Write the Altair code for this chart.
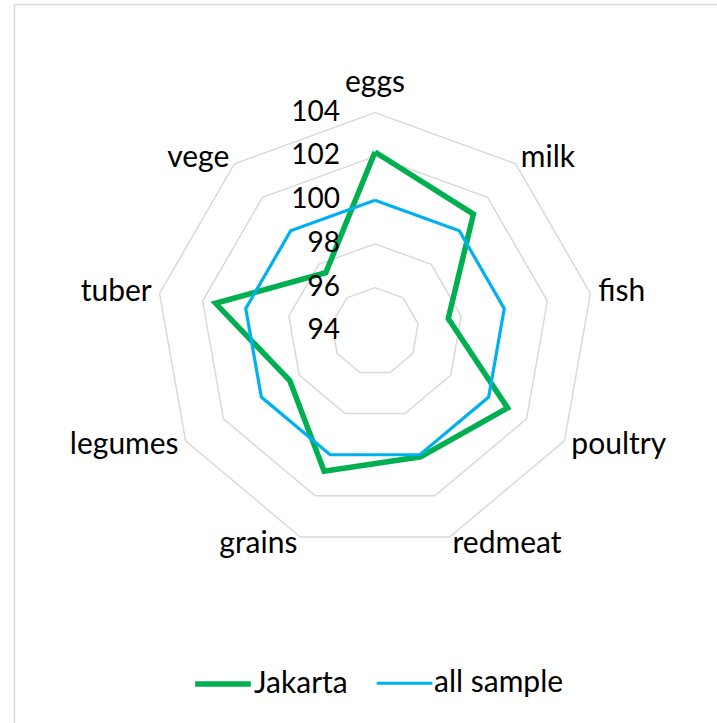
import altair as alt
import pandas as pd

# Radar chart: food price index, Jakarta vs. all sample
categories = ["eggs", "milk", "fish", "poultry", "redmeat", "grains", "legumes", "tuber", "vege"]
jakarta = [102.2, 101.0, 97.4, 101.0, 100.1, 100.8, 98.5, 101.4, 97.5]
all_sample = [100.0, 100.0, 100.0, 100.0, 100.0, 100.0, 100.0, 100.0, 100.0]
series_names = ["Jakarta", "all sample"]
series_colors = ["#00B050", "#00B0F0"]
ticks = [94, 96, 98, 100, 102, 104]

AXIS_MIN = ticks[0]
AXIS_MAX = ticks[-1]
N = len(categories)

# canvas geometry
W, H = 717, 723
CX, CY = 375.0, 331.4
PX_PER_UNIT = 218.75 / (AXIS_MAX - AXIS_MIN)
XMIN, XMAX = -CX / PX_PER_UNIT, (W - CX) / PX_PER_UNIT
YMIN, YMAX = -(H - CY) / PX_PER_UNIT, CY / PX_PER_UNIT

FONT = "Lato"
TICK_SIZE = 28
LABEL_SIZE = 30
GRID_COLOR = "#d9d9d9"

# closed polygons for each series
rows = []
for name, vals in zip(series_names, [jakarta, all_sample]):
    for i in range(N + 1):
        k = i % N
        rows.append({"series": name, "category": categories[k], "idx": k,
                     "order": i, "value": vals[k]})
lines_df = pd.DataFrame(rows)

# closed polygons for each gridline level
grid_rows = []
for t in ticks[1:]:
    for i in range(N + 1):
        grid_rows.append({"tick": t, "idx": i % N, "order": i, "value": t})
grid_df = pd.DataFrame(grid_rows)

tick_df = pd.DataFrame({"tick": ticks})
label_df = pd.DataFrame({"category": categories, "idx": list(range(N))})

xscale = alt.Scale(domain=[XMIN, XMAX], nice=False, zero=False)
yscale = alt.Scale(domain=[YMIN, YMAX], nice=False, zero=False)

ANGLE = f"datum.idx * 2 * PI / {N}"


def polar(chart, radius_expr):
    return chart.transform_calculate(
        ang=ANGLE,
        r=radius_expr,
    ).transform_calculate(
        px="datum.r * sin(datum.ang)",
        py="datum.r * cos(datum.ang)",
        s="sin(datum.ang)",
    )


grid = polar(alt.Chart(grid_df), f"datum.value - {AXIS_MIN}").mark_line(
    color=GRID_COLOR, strokeWidth=1.5, strokeJoin="miter"
).encode(
    x=alt.X("px:Q", scale=xscale, axis=None),
    y=alt.Y("py:Q", scale=yscale, axis=None),
    detail="tick:N",
    order="order:Q",
)

legend_kw = dict(
    title=None,
    orient="none",
    legendX=192,
    legendY=653,
    direction="horizontal",
    symbolType="stroke",
    symbolSize=3100,
    labelFont=FONT,
    labelFontSize=LABEL_SIZE,
    labelColor="#000000",
    labelOffset=0,
    columnPadding=22,
)

series = polar(alt.Chart(lines_df), f"datum.value - {AXIS_MIN}").mark_line(
    strokeJoin="miter", strokeCap="butt"
).encode(
    x=alt.X("px:Q", scale=xscale, axis=None),
    y=alt.Y("py:Q", scale=yscale, axis=None),
    color=alt.Color("series:N", scale=alt.Scale(domain=series_names, range=series_colors),
                    legend=alt.Legend(**legend_kw)),
    strokeWidth=alt.StrokeWidth("series:N", scale=alt.Scale(domain=series_names, range=[5.5, 3.2]),
                                legend=alt.Legend(**legend_kw)),
    order="order:Q",
)

# value labels along the vertical spoke
tick_labels = alt.Chart(tick_df).transform_calculate(
    py=f"datum.tick - {AXIS_MIN}", px="0"
).mark_text(
    align="right", baseline="middle", dx=-35, font=FONT, fontSize=TICK_SIZE, color="#000000"
).encode(
    x=alt.X("px:Q", scale=xscale, axis=None),
    y=alt.Y("py:Q", scale=yscale, axis=None),
    text="tick:Q",
)

OUTER = AXIS_MAX - AXIS_MIN
label_base = polar(
    alt.Chart(label_df),
    f"datum.idx == 0 ? {OUTER + 30 / PX_PER_UNIT} : {OUTER + 8 / PX_PER_UNIT}",
)
label_enc = dict(
    x=alt.X("px:Q", scale=xscale, axis=None),
    y=alt.Y("py:Q", scale=yscale, axis=None),
    text="category:N",
)
text_style = dict(baseline="middle", font=FONT, fontSize=LABEL_SIZE, color="#000000")
labels_left = label_base.transform_filter("datum.s > 0.1").mark_text(
    align="left", **text_style).encode(**label_enc)
labels_right = label_base.transform_filter("datum.s < -0.1").mark_text(
    align="right", **text_style).encode(**label_enc)
labels_center = label_base.transform_filter("abs(datum.s) <= 0.1").mark_text(
    align="center", **text_style).encode(**label_enc)

# chart area frame
frame_df = pd.DataFrame({"k": [0]})
frame_left = alt.Chart(frame_df).mark_rule(color=GRID_COLOR, strokeWidth=1.5).encode(
    x=alt.value(14.5), y=alt.value(4.5), y2=alt.value(H)
)
frame_top = alt.Chart(frame_df).mark_rule(color=GRID_COLOR, strokeWidth=1.5).encode(
    x=alt.value(14.5), x2=alt.value(W), y=alt.value(4.5)
)

chart = alt.layer(
    frame_left, frame_top, grid, series, tick_labels,
    labels_left, labels_right, labels_center,
).properties(
    width=W, height=H, padding=0,
    autosize=alt.AutoSizeParams(type="none"),
    background="white",
).configure_view(stroke=None)

chart.save("out.html", embed_options={"renderer": "svg", "actions": False})
